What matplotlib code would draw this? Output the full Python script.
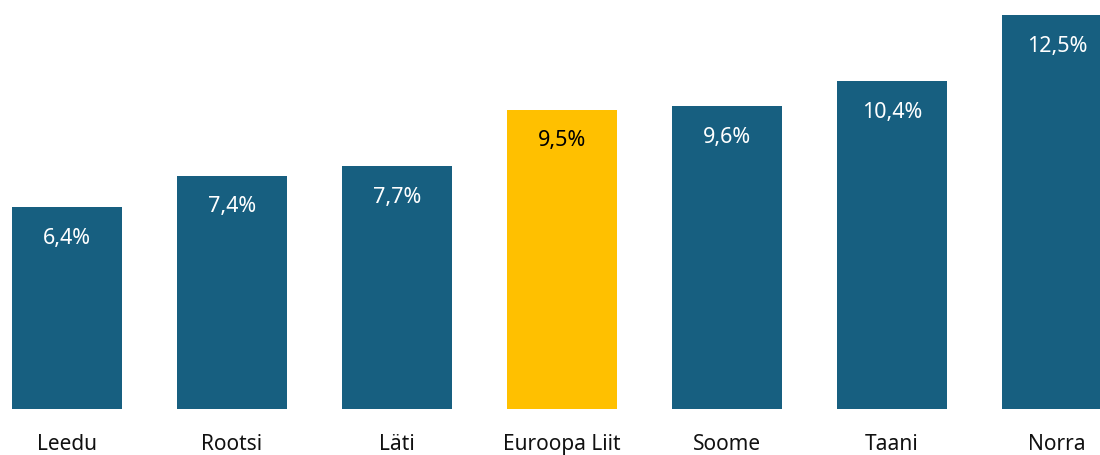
import matplotlib.pyplot as plt
from matplotlib import transforms

countries = ["Leedu", "Rootsi", "Läti", "Euroopa Liit", "Soome", "Taani", "Norra"]
values = [6.4, 7.4, 7.7, 9.5, 9.6, 10.4, 12.5]
labels = ["6,4%", "7,4%", "7,7%", "9,5%", "9,6%", "10,4%", "12,5%"]

blue = "#175F80"
yellow = "#FFC000"
colors = [yellow if c == "Euroopa Liit" else blue for c in countries]

plt.rcParams['font.family'] = ['Noto Sans', 'DejaVu Sans']

fig = plt.figure(figsize=(11, 4.55), dpi=100)
ax = fig.add_axes([0, 46 / 455, 1, 409 / 455])
x = list(range(len(countries)))
ax.bar(x, values, width=0.667, color=colors)
ax.set_xlim(-0.406, 6.26)
ax.set_ylim(0, 12.5 * 409 / 394)

# value labels, ~30px under the bar top
off = transforms.offset_copy(ax.transData, fig=fig, x=0, y=-31, units='dots')
for i, v in enumerate(values):
    tc = "black" if countries[i] == "Euroopa Liit" else "white"
    ax.text(i, v, labels[i], transform=off, ha='center', va='center',
            fontsize=15.5, color=tc)

ax.set_xticks(x)
ax.set_xticklabels(countries, fontsize=15, color="#111111")
ax.tick_params(axis='x', length=0, pad=18)
ax.set_yticks([])
for s in ax.spines.values():
    s.set_visible(False)

fig.savefig("out.png", dpi=100)
